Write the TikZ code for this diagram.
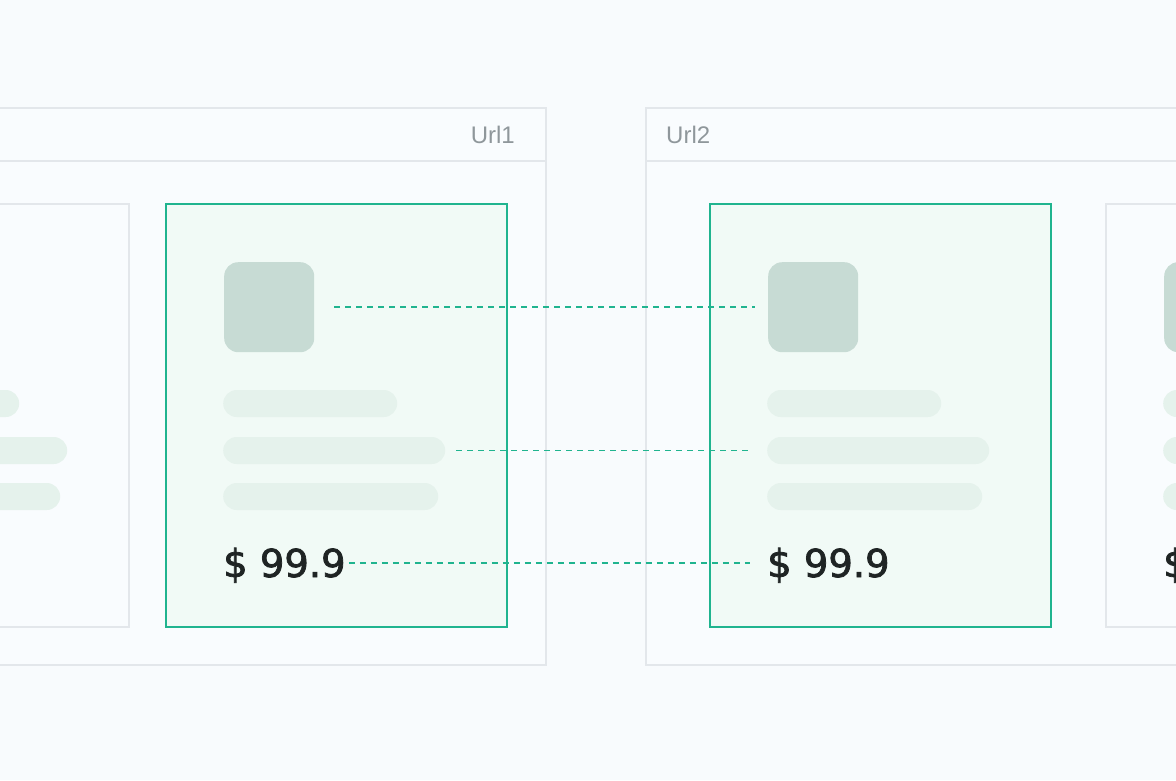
\documentclass[tikz,border=0pt]{standalone}
\usepackage{fontspec}
\setmainfont{Liberation Sans}
\newfontfamily\pricefont[FakeBold=2]{DejaVu Sans}
\usetikzlibrary{positioning}

\definecolor{pagebg}{HTML}{F8FBFD}
\definecolor{winbg}{HTML}{F9FCFE}
\definecolor{winline}{HTML}{E3E7EB}
\definecolor{accent}{HTML}{20B48F}
\definecolor{cardbg}{HTML}{F1FAF6}
\definecolor{thumbc}{HTML}{C7DBD4}
\definecolor{barc}{HTML}{E5F2EC}
\definecolor{ink}{HTML}{1F2424}
\definecolor{urlc}{HTML}{8F979B}

\tikzset{
  win/.style={draw=winline, line width=2pt, fill=winbg},
  card/.style={draw=winline, line width=2pt, fill=winbg, anchor=north west,
    minimum width=341pt, minimum height=423pt, inner sep=0pt},
  hicard/.style={card, draw=accent, fill=cardbg},
  thumb/.style={fill=thumbc, rounded corners=14pt, anchor=north west,
    minimum size=90pt, inner sep=0pt},
  bar/.style={fill=barc, rounded corners=13.5pt, anchor=west,
    minimum height=27pt, inner sep=0pt},
  price/.style={font=\pricefont\fontsize{38.5}{38.5}\selectfont, text=ink, anchor=base west,
    inner sep=0pt, text height=28.5pt, text depth=0pt},
  urltext/.style={font=\fontsize{24}{24}\selectfont, text=urlc, inner sep=0pt},
  link/.style={draw=accent, line width=1.8pt, dash pattern=on 6pt off 5pt}
}

\begin{document}
\begin{tikzpicture}[x=1pt, y=-1pt]
  \useasboundingbox (0,0) rectangle (1176,780);
  \fill[pagebg] (0,0) rectangle (1176,780);
  \clip (0,0) rectangle (1176,780);

  % browser windows
  \draw[win] (-20,108) rectangle (546,665);
  \draw[winline, line width=2pt] (-20,161) -- (546,161);
  \draw[win] (646,108) rectangle (1200,665);
  \draw[winline, line width=2pt] (646,161) -- (1200,161);
  \node[urltext, anchor=east] (url1) at (515,135) {Url1};
  \node[urltext, anchor=west] (url2) at (666,135) {Url2};

  % product cards
  \foreach \n/\x/\s in {a/-213/card, b/165/hicard, c/709/hicard, d/1105/card} {
    \node[\s] (\n) at (\x,203) {};
    \node[thumb] (\n-icon) at ([xshift=59pt, yshift=-59pt]\n.north west) {};
    \node[bar, minimum width=174pt] (\n-bar1) at ([xshift=58pt, yshift=-200.5pt]\n.north west) {};
    \node[bar, minimum width=222pt] (\n-bar2) at ([xshift=58pt, yshift=-247.5pt]\n.north west) {};
    \node[bar, minimum width=215pt] (\n-bar3) at ([xshift=58pt, yshift=-293.5pt]\n.north west) {};
    \node[price] (\n-price) at ([xshift=58pt, yshift=-374pt]\n.north west) {\$ 99.9};
  }

  % matching fields
  \draw[link, shorten <=20pt, shorten >=13pt] (b-icon.east) -- (c-icon.west);
  \draw[link, shorten <=11pt, shorten >=17pt] (b-bar2.east) -- (c-bar2.west);
  \draw[link, shorten <=3pt, shorten >=17pt] (b-price.east) -- (c-price.west);
\end{tikzpicture}
\end{document}
